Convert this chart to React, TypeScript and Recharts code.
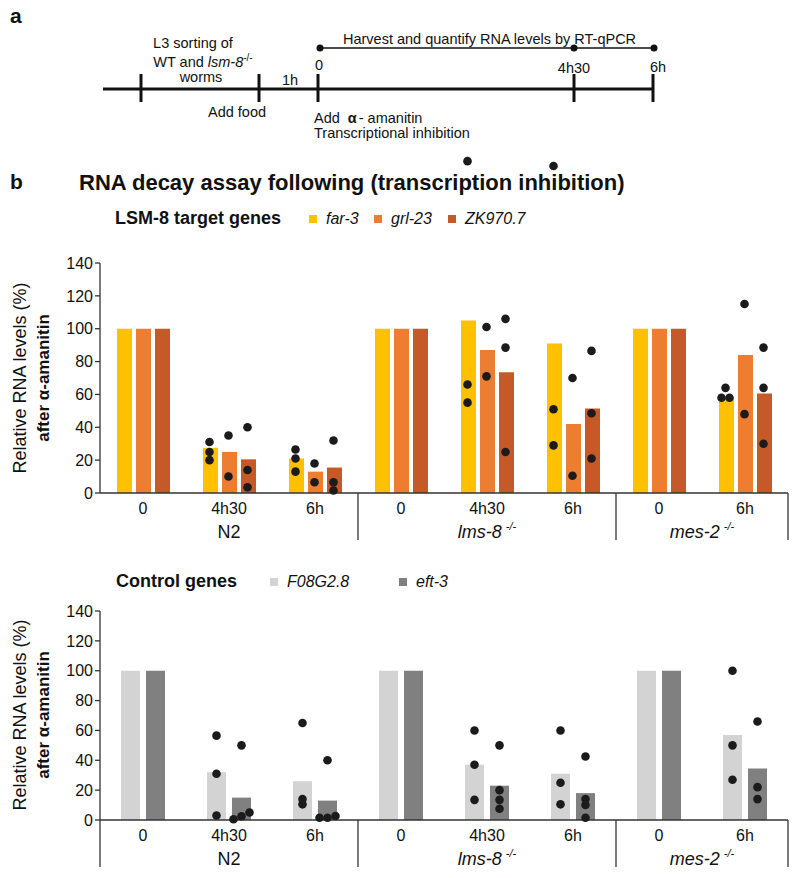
import React from 'react';
import { ComposedChart, Bar, Scatter, XAxis, YAxis, ReferenceLine } from 'recharts';

// categories (time point + strain)
const timeLabels = ['0', '4h30', '6h', '0', '4h30', '6h', '0', '6h'];
const strainLabels = ['N2', 'N2', 'N2', 'lms-8', 'lms-8', 'lms-8', 'mes-2', 'mes-2'];
const yTicks = [0, 20, 40, 60, 80, 100, 120, 140];

// LSM-8 target genes: bar = mean, dots = replicates
const far3 = [100, 27.5, 21, 100, 105, 91, 100, 57];
const grl23 = [100, 25, 13, 100, 87, 42, 100, 84];
const zk9707 = [100, 20.5, 15.5, 100, 73.5, 51.5, 100, 60.5];
const far3Dots = [[], [31, 25, 20], [26.5, 21, 13], [], [66, 55, 202], [51, 29, 199], [], [64, 58, 58]];
const grl23Dots = [[], [35, 10], [18, 6.5], [], [101, 71], [70, 10.5], [], [115, 48]];
const zk9707Dots = [[], [40, 14, 3.5], [32, 6.5, 1.5], [], [106, 88.5, 25], [86.5, 48.5, 21], [], [88.5, 64, 30]];

// control genes
const f08g28 = [100, 32, 26, 100, 37, 31, 100, 57];
const eft3 = [100, 15, 13, 100, 23, 18, 100, 34.5];
const f08g28Dots = [[], [56.5, 31, 3], [65, 14, 10.5], [], [60, 37, 13.5], [60, 25, 10.5], [], [100, 50, 27]];
const eft3Dots = [[], [50, 5, 2.5, 0.5], [40, 2.7, 1.5, 1.5], [], [50, 20, 13.5, 7.5], [42.5, 14, 10, 1.5], [], [66, 22, 14]];

const FONT = '"Liberation Sans", Arial, sans-serif';
const PLOT_W = 688;
const BAND = PLOT_W / timeLabels.length;
const INK = '#111';

// replicate dots placed over their bar, spread sideways when they would overlap
function dotPoints(dots: number[][][], barSize: number, gap: number, pxPerUnit: number) {
  const n = dots.length;
  const start = Math.floor((BAND - (n * barSize + (n - 1) * gap)) / 2);
  const pts: { x: number; y: number }[] = [];
  dots.forEach((series, j) => {
    const center = start + barSize / 2 + j * (barSize + gap);
    series.forEach((vals, i) => {
      const sorted = [...vals].sort((a, b) => a - b);
      const clusters: number[][] = [];
      sorted.forEach((v) => {
        const last = clusters[clusters.length - 1];
        if (last && (v - last[last.length - 1]) * pxPerUnit < 5) last.push(v);
        else clusters.push([v]);
      });
      clusters.forEach((c) =>
        c.forEach((v, k) => {
          const dx = (k - (c.length - 1) / 2) * 8;
          pts.push({ x: i + (center + dx) / BAND, y: v });
        })
      );
    });
  });
  return pts;
}

const Dot = (p: any) => <circle cx={p.cx} cy={p.cy} r={4.3} fill="#1b1b1b" />;

function CategoryTick(props: any) {
  const { x, y, payload, leftDivider } = props;
  const i = payload.index;
  const half = payload.offset || BAND / 2;
  const strain = strainLabels[i];
  const start = strainLabels.indexOf(strain);
  const end = strainLabels.lastIndexOf(strain);
  const mutant = strain !== 'N2';
  return (
    <g>
      <text x={x} y={y + 21} textAnchor="middle" fontSize={16} fill={INK}>
        {timeLabels[i]}
      </text>
      {i === start && (
        <text
          x={x + (end - start) * half}
          y={y + 45}
          textAnchor="middle"
          fontSize={18}
          fill={INK}
          fontStyle={mutant ? 'italic' : 'normal'}
        >
          {strain}
          {mutant && (
            <tspan fontSize={11} dx={4} dy={-8}>
              -/-
            </tspan>
          )}
        </text>
      )}
      {i === end && <line x1={x + half} x2={x + half} y1={y} y2={y + 47} stroke="#333" strokeWidth={1.3} />}
      {leftDivider && i === 0 && <line x1={x - half} x2={x - half} y1={y} y2={y + 47} stroke="#333" strokeWidth={1.3} />}
    </g>
  );
}

function TargetChart() {
  const data = timeLabels.map((t, i) => ({ key: `${strainLabels[i]} ${t} ${i}`, far3: far3[i], grl23: grl23[i], zk: zk9707[i] }));
  const pts = dotPoints([far3Dots, grl23Dots, zk9707Dots], 15, 4, 345 / 210);
  return (
    <ComposedChart width={800} height={420} data={data} margin={{ top: 8, right: 12, bottom: 17, left: 40 }} barSize={15} barGap={4}>
      <XAxis
        xAxisId="cat"
        dataKey="key"
        type="category"
        interval={0}
        height={50}
        tickLine={false}
        tickSize={0}
        tickMargin={0}
        axisLine={{ stroke: '#333', strokeWidth: 1.3 }}
        tick={<CategoryTick />}
      />
      <XAxis xAxisId="num" type="number" dataKey="x" domain={[0, timeLabels.length]} hide />
      <YAxis
        width={60}
        domain={[0, 210]}
        ticks={yTicks}
        axisLine={false}
        tickSize={5}
        tickLine={{ stroke: '#333', strokeWidth: 1.3 }}
        tick={{ fontSize: 16, fill: INK }}
      />
      <ReferenceLine xAxisId="num" segment={[{ x: 0, y: 0 }, { x: 0, y: 140 }]} stroke="#333" strokeWidth={1.3} ifOverflow="visible" />
      <Bar xAxisId="cat" dataKey="far3" fill="#FFC000" isAnimationActive={false} />
      <Bar xAxisId="cat" dataKey="grl23" fill="#ED7D31" isAnimationActive={false} />
      <Bar xAxisId="cat" dataKey="zk" fill="#C55A28" isAnimationActive={false} />
      <Scatter xAxisId="num" data={pts} dataKey="y" shape={Dot} isAnimationActive={false} />
    </ComposedChart>
  );
}

function ControlChart() {
  const data = timeLabels.map((t, i) => ({ key: `${strainLabels[i]} ${t} ${i}`, f08: f08g28[i], eft: eft3[i] }));
  const pts = dotPoints([f08g28Dots, eft3Dots], 19, 6, 209 / 140);
  return (
    <ComposedChart width={800} height={318} data={data} margin={{ top: 51, right: 12, bottom: 8, left: 40 }} barSize={19} barGap={6}>
      <XAxis
        xAxisId="cat"
        dataKey="key"
        type="category"
        interval={0}
        height={50}
        tickLine={false}
        tickSize={0}
        tickMargin={0}
        axisLine={{ stroke: '#333', strokeWidth: 1.3 }}
        tick={<CategoryTick leftDivider />}
      />
      <XAxis xAxisId="num" type="number" dataKey="x" domain={[0, timeLabels.length]} hide />
      <YAxis
        width={60}
        domain={[0, 140]}
        ticks={yTicks}
        axisLine={{ stroke: '#333', strokeWidth: 1.3 }}
        tickSize={5}
        tickLine={{ stroke: '#333', strokeWidth: 1.3 }}
        tick={{ fontSize: 16, fill: INK }}
      />
      <Bar xAxisId="cat" dataKey="f08" fill="#D3D3D3" isAnimationActive={false} />
      <Bar xAxisId="cat" dataKey="eft" fill="#808080" isAnimationActive={false} />
      <Scatter xAxisId="num" data={pts} dataKey="y" shape={Dot} isAnimationActive={false} />
    </ComposedChart>
  );
}

function YTitle({ cy }: { cy: number }) {
  return (
    <g>
      <text transform={`translate(26 ${cy}) rotate(-90)`} textAnchor="middle" fontSize={18} fill={INK}>
        Relative RNA levels (%)
      </text>
      <text transform={`translate(49 ${cy}) rotate(-90)`} textAnchor="middle" fontSize={17} fontWeight="bold" fill={INK}>
        after α-amanitin
      </text>
    </g>
  );
}

function Timeline() {
  const ticks = [141, 259, 318, 574, 653];
  return (
    <g fill={INK} fontSize={14.5}>
      <text x={10} y={23} fontSize={21} fontWeight="bold">a</text>
      <line x1={103} x2={653} y1={89} y2={89} stroke="#111" strokeWidth={3} />
      {ticks.map((t) => (
        <line key={t} x1={t} x2={t} y1={74} y2={102} stroke="#111" strokeWidth={3} />
      ))}
      <line x1={320} x2={654} y1={48} y2={48} stroke="#111" strokeWidth={1.3} />
      {[320, 574, 654].map((t) => (
        <circle key={t} cx={t} cy={48} r={3.5} fill="#111" />
      ))}
      <text x={343} y={44}>Harvest and quantify RNA levels by RT-qPCR</text>
      <text x={319} y={70} textAnchor="middle">0</text>
      <text x={574} y={73} textAnchor="middle">4h30</text>
      <text x={658} y={72} textAnchor="middle">6h</text>
      <text x={193} y={48} textAnchor="middle">L3 sorting of</text>
      <text x={203} y={67} textAnchor="middle">
        WT and <tspan fontStyle="italic">lsm-8</tspan>
        <tspan fontSize={10} dy={-6}>-/-</tspan>
      </text>
      <text x={201} y={82} textAnchor="middle">worms</text>
      <text x={290} y={85} textAnchor="middle">1h</text>
      <text x={237} y={117} textAnchor="middle">Add food</text>
      <text x={314} y={123}>
        Add <tspan fontWeight="bold" dx={4}>α</tspan>
        <tspan dx={2}>- amanitin</tspan>
      </text>
      <text x={314} y={138}>Transcriptional inhibition</text>
    </g>
  );
}

function Swatch({ x, y, color, label }: { x: number; y: number; color: string; label: string }) {
  return (
    <g>
      <rect x={x} y={y - 9} width={8} height={8} fill={color} />
      <text x={x + 17} y={y} fontSize={16} fontStyle="italic" fill={INK}>
        {label}
      </text>
    </g>
  );
}

export default function App() {
  return (
    <div style={{ position: 'absolute', left: 0, top: 0, width: 800, height: 878, background: '#fff', fontFamily: FONT }}>
      <svg width={800} height={878} style={{ position: 'absolute', left: 0, top: 0 }} fontFamily={FONT}>
        <Timeline />
        <text x={10} y={189} fontSize={21} fontWeight="bold" fill={INK}>b</text>
        <text x={79} y={190} fontSize={22} fontWeight="bold" fill={INK}>
          RNA decay assay following (transcription inhibition)
        </text>
        <text x={115} y={224} fontSize={18} fontWeight="bold" fill={INK}>LSM-8 target genes</text>
        <Swatch x={309} y={224} color="#FFC000" label="far-3" />
        <Swatch x={374} y={224} color="#ED7D31" label="grl-23" />
        <Swatch x={448} y={224} color="#C55A28" label="ZK970.7" />
        <text x={116} y={587} fontSize={18} fontWeight="bold" fill={INK}>Control genes</text>
        <Swatch x={270} y={587} color="#D3D3D3" label="F08G2.8" />
        <Swatch x={399} y={587} color="#808080" label="eft-3" />
        <YTitle cy={378} />
        <YTitle cy={715} />
      </svg>
      <div style={{ position: 'absolute', left: 0, top: 140 }}>
        <TargetChart />
      </div>
      <div style={{ position: 'absolute', left: 0, top: 560 }}>
        <ControlChart />
      </div>
    </div>
  );
}
